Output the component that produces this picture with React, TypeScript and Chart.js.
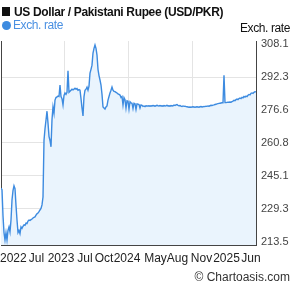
import React, { useEffect, useRef } from 'react';
import { Chart, registerables } from 'chart.js';

Chart.register(...registerables);

const chartTitle = 'US Dollar / Pakistani Rupee (USD/PKR)';
const seriesName = 'Exch. rate';
const axisTitle = 'Exch. rate';
const credit = '\u00A9 Chartoasis.com';

// USD/PKR exchange rate, sampled evenly along the time axis
const rates = [
  239.3, 238.5, 226, 218, 214.5, 218, 214.5, 219, 220.7, 218.3, 224, 233.6, 238, 240.3, 239, 231,
  224, 218, 219, 217.5, 220.7, 220, 221, 221.7, 221.5, 222.5, 222.3, 223.5, 224, 223.8, 224.2, 224.5,
  225, 225.3, 225.5, 226.3, 227, 227.4, 228, 228.8, 229.5, 231.2, 235, 262, 267.6, 271.8, 276, 270.3,
  264, 262, 259, 272, 278, 275, 281.3, 282.5, 282.8, 283.2, 283, 288.5, 283, 282, 279, 283.5,
  284.7, 284, 285, 295.3, 285, 285.5, 286, 286.5, 286.2, 286.5, 287, 286.5, 286.8, 286, 286.3, 286,
  282, 277.5, 273.7, 283, 286, 286.5, 287.5, 286, 288, 294.2, 296, 298, 303.8, 306, 307.6, 306,
  302.8, 296, 293, 290.9, 288.5, 284, 278, 277.5, 277, 278, 278.5, 281.3, 283, 284.7, 286, 287.5,
  286, 285.5, 285.3, 285, 284.7, 284.3, 284, 283.7, 282.5, 283, 279, 282.5, 281.5, 277.5, 281, 280.8,
  277, 280.5, 280, 279.8, 277.3, 279.8, 279.6, 276.8, 279.5, 279.4, 279.2, 277.5, 279, 278.8, 278.3, 278.5,
  278.2, 278.6, 278.5, 278.5, 278.6, 278.4, 278.6, 278.5, 278.7, 278.6, 278.4, 278.6, 278.8, 278.6, 278.5, 278.7,
  278.5, 278.6, 278.4, 278.7, 278.5, 278.6, 278.8, 278.5, 278.6, 278.4, 278.7, 278.5, 278.6, 278.9, 278.7, 279.0,
  279.2, 278.8, 278.6, 278.7, 278.4, 278.2, 278.5, 278.3, 278.4, 278.2, 278.1, 278.0, 277.9, 278.0, 277.9, 278.0,
  278.1, 278.0, 277.9, 278.0, 278.1, 278.0, 277.9, 278.1, 278.2, 278.0, 278.1, 278.3, 278.2, 278.4, 278.3, 278.5,
  278.4, 278.6, 278.8, 278.7, 278.9, 279.0, 279.2, 279.3, 279.5, 279.6, 279.7, 279.8, 279.9, 280.0, 280.0, 293.2,
  280.1, 280.1, 280.2, 280.3, 280.3, 280.4, 280.3, 280.6, 280.8, 281.2, 281.0, 281.5, 281.8, 281.5, 282.0, 282.3,
  282.0, 282.6, 282.4, 283.0, 282.7, 283.2, 283.0, 283.6, 284.0, 283.8, 284.5, 284.7, 284.5, 285.0, 285.3, 285.2,
];

// bottom axis labels and where they sit (in sample index units)
const xTickLabels = ['2022', 'Jul', '2023', 'Jul', 'Oct', '2024', 'May', 'Aug', 'Nov', '2025', 'Jun'];
const xTickPositions = [12.3, 35.5, 60, 84, 103, 126, 154.5, 176.5, 200.5, 225.5, 250];

// right axis ticks
const yTickValues = [213.5, 229.3, 245.1, 260.8, 276.6, 292.3, 308.1];
const yMin = 212.07;
const yMax = 309.53;

const LINE = '#3d8be0';
const FILL = '#eaf4fd';
const AXIS = '#444444';
const GRID = '#e4e4e4';
const FONT = "'Liberation Sans', Arial, sans-serif";

export default function App() {
  const canvasRef = useRef<HTMLCanvasElement | null>(null);

  useEffect(() => {
    const canvas = canvasRef.current;
    if (!canvas) return;
    const n = rates.length;
    const chart = new Chart(canvas, {
      type: 'line',
      data: {
        datasets: [
          {
            label: seriesName,
            data: rates.map((v, i) => ({ x: i, y: v })),
            borderColor: LINE,
            borderWidth: 1.4,
            backgroundColor: FILL,
            fill: 'start',
            pointRadius: 0,
            tension: 0,
            xAxisID: 'x',
            yAxisID: 'y',
          },
        ],
      },
      options: {
        animation: false,
        responsive: false,
        devicePixelRatio: 1,
        layout: { padding: { top: 41, left: 0, right: 0, bottom: 0 } },
        plugins: {
          legend: { display: false },
          tooltip: { enabled: false },
          title: { display: false },
        },
        scales: {
          x: {
            type: 'linear',
            position: 'bottom',
            weight: 0,
            min: 0,
            max: n - 1,
            ticks: { display: false },
            grid: { color: GRID, drawTicks: false, lineWidth: 1 },
            border: { display: true, color: AXIS, width: 1 },
            afterBuildTicks: (s: any) => {
              s.ticks = [1, 2, 3].map((k) => ({ value: s.min + ((s.max - s.min) * k) / 4 }));
            },
            afterFit: (s: any) => {
              s.height = 0;
              s.paddingLeft = 0;
              s.paddingRight = 0;
            },
          },
          x2: {
            type: 'linear',
            position: 'bottom',
            weight: 1,
            min: 0,
            max: n - 1,
            grid: { display: false, drawTicks: false },
            border: { display: false },
            ticks: {
              autoSkip: false,
              maxRotation: 0,
              minRotation: 0,
              padding: 6,
              color: '#222222',
              font: { family: FONT, size: 12 },
              callback: (_v: any, i: number) => xTickLabels[i],
            },
            afterBuildTicks: (s: any) => {
              s.ticks = xTickPositions.map((v) => ({ value: v }));
            },
            afterFit: (s: any) => {
              s.height = 43;
              s.paddingLeft = 0;
              s.paddingRight = 0;
            },
          },
          y0: {
            type: 'linear',
            position: 'left',
            ticks: { display: false },
            grid: { display: false, drawTicks: false },
            border: { display: true, color: AXIS, width: 1 },
            afterFit: (s: any) => {
              s.width = 1;
              s.paddingTop = 0;
              s.paddingBottom = 0;
            },
          },
          y: {
            type: 'linear',
            position: 'right',
            min: yMin,
            max: yMax,
            ticks: {
              padding: 5,
              color: '#444444',
              font: { family: FONT, size: 11 },
              callback: (v: any) => Number(v).toFixed(1),
            },
            grid: {
              drawTicks: false,
              color: (ctx: any) =>
                ctx.index === 0 || ctx.index === yTickValues.length - 1 ? 'rgba(0,0,0,0)' : GRID,
            },
            border: { display: true, color: AXIS, width: 1 },
            afterBuildTicks: (s: any) => {
              s.ticks = yTickValues.map((v) => ({ value: v }));
            },
            afterFit: (s: any) => {
              s.width = 39;
              s.paddingTop = 0;
              s.paddingBottom = 0;
            },
          },
        },
      },
    } as any);
    return () => chart.destroy();
  }, []);

  const textBase: React.CSSProperties = {
    position: 'absolute',
    whiteSpace: 'nowrap',
    fontFamily: FONT,
    fontSize: 12,
    lineHeight: '12px',
  };

  return (
    <div style={{ position: 'relative', width: 295, height: 288, background: '#ffffff', overflow: 'hidden' }}>
      <style>{'body{margin:0;}'}</style>
      <canvas
        ref={canvasRef}
        width={295}
        height={288}
        style={{ position: 'absolute', left: 0, top: 0, width: 295, height: 288 }}
      />
      <div style={{ position: 'absolute', left: 2, top: 7, width: 8, height: 9, background: '#111111' }} />
      <div style={{ ...textBase, left: 14, top: 6, fontWeight: 'bold', color: '#111111', letterSpacing: '-0.35px' }}>
        {chartTitle}
      </div>
      <div
        style={{ position: 'absolute', left: 2, top: 21, width: 9, height: 9, borderRadius: '50%', background: LINE }}
      />
      <div style={{ ...textBase, left: 13, top: 19, color: '#4a90e2', letterSpacing: '-0.4px' }}>{seriesName}</div>
      <div style={{ ...textBase, right: 5, top: 22, color: '#111111', letterSpacing: '-0.4px' }}>{axisTitle}</div>
      <div style={{ ...textBase, right: 5, top: 271, color: '#333333' }}>{credit}</div>
    </div>
  );
}
